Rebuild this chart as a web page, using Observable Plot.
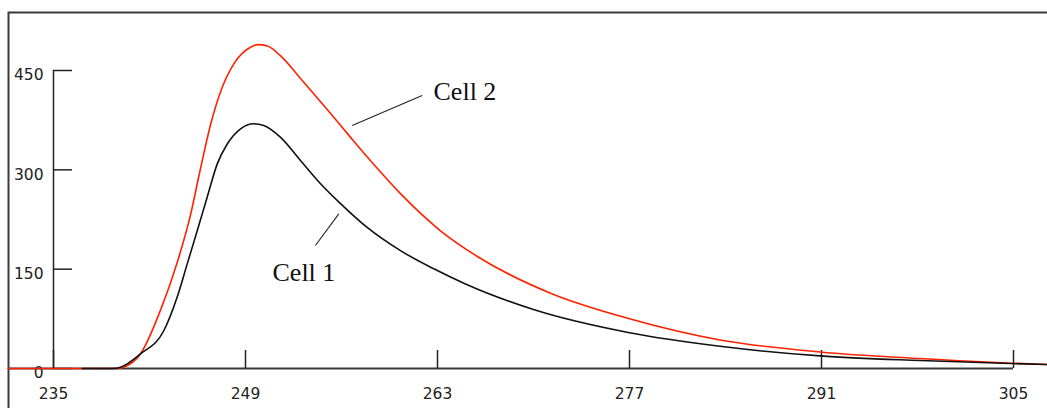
<!DOCTYPE html>
<html><head><meta charset="utf-8">
<script src="https://cdn.jsdelivr.net/npm/d3@7"></script>
<script src="https://cdn.jsdelivr.net/npm/@observablehq/plot@0.6"></script>
<style>
html,body{margin:0;padding:0;background:#fff;overflow:hidden;}
#chart svg{display:block;}
</style>
</head><body><div id="chart"></div>
<script>
// Cell 2 (red) trace
const cell2Time  = [231.7, 239.6, 240.1, 241.34, 242.8, 244.02, 244.99, 245.72, 246.45, 247.18, 248.15, 249.36, 249.9, 250.6, 251.56, 253.01, 254.96, 256.66, 258.36, 260.3, 263.22, 266.0, 271.2, 277.0, 283.6, 290.9, 298.2, 304.8, 307.5];
const cell2Value = [0, 0, 2, 22, 88, 160, 232, 302, 368, 418, 460, 485, 489, 487, 472, 438, 391, 349, 308, 264, 208, 168, 114, 75, 43, 25, 15, 8, 6];
// Cell 1 (black) trace
const cell1Time  = [237.1, 239.3, 239.89, 241.34, 243.04, 244.02, 244.75, 245.48, 246.21, 246.94, 247.67, 248.64, 249.61, 250.33, 251.56, 253.01, 254.47, 255.93, 257.87, 260.3, 262.73, 265.0, 270.0, 277.0, 283.6, 290.9, 298.2, 304.8, 307.5];
const cell1Value = [0, 0, 2, 22, 57, 108, 158, 208, 259, 309, 339, 362, 369.5, 367, 349, 314, 279, 249, 213, 178, 150.5, 128, 89, 54, 33.5, 19, 12, 7.5, 6];

const xTicks = [235, 249, 263, 277, 291, 305];
const yTicks = [0, 150, 300, 450];

const labelNames = ["Cell 1", "Cell 2"];
const labelTime  = [250.97, 262.71];
const labelValue = [145, 417.5];
// leader lines (data coordinates)
const leaderX1 = [254.10, 256.78];
const leaderY1 = [185.7, 366.9];
const leaderX2 = [255.80, 261.88];
const leaderY2 = [233.6, 412.3];

const cell2 = cell2Time.map((t, i) => ({t, v: cell2Value[i]}));
const cell1 = cell1Time.map((t, i) => ({t, v: cell1Value[i]}));
const labels = labelNames.map((name, i) => ({name, t: labelTime[i], v: labelValue[i]}));
const leaders = labelNames.map((name, i) => ({x1: leaderX1[i], y1: leaderY1[i], x2: leaderX2[i], y2: leaderY2[i]}));

const chart = Plot.plot({
  width: 1047,
  height: 408,
  marginLeft: 53,
  marginRight: 34,
  marginTop: 70,
  marginBottom: 40,
  x: {domain: [235, 305]},
  y: {domain: [0, 450]},
  style: {fontFamily: "DejaVu Sans", background: "#fff", overflow: "visible"},
  marks: [
    Plot.frame({stroke: "#3a3a3a", strokeWidth: 2, insetLeft: -45, insetTop: -58, insetRight: -80, insetBottom: -80}),
    // y axis line + ticks pointing right
    Plot.ruleX([235], {y1: 0, y2: 450, stroke: "#222", strokeWidth: 1.5}),
    Plot.tickY(yTicks, {y: d => d, stroke: "#222", strokeWidth: 1.5, insetRight: 941}),
    Plot.axisY({ticks: yTicks, tickSize: 0, tickPadding: 10, dy: 5, fontSize: 15.5, fill: "#222", label: null, style: {letterSpacing: "0.8px"}}),
    // x baseline + ticks pointing up
    Plot.ruleY([0], {stroke: "#3a3a3a", strokeWidth: 2, insetLeft: -45}),
    Plot.tickX(xTicks, {x: d => d, stroke: "#222", strokeWidth: 1.5, insetTop: 280}),
    Plot.axisX({ticks: xTicks, tickSize: 0, tickPadding: 19, fontSize: 15.5, fill: "#222", label: null, style: {letterSpacing: "0.8px"}}),
    // traces
    Plot.line(cell2, {x: "t", y: "v", stroke: "#ff2200", strokeWidth: 1.6, curve: "monotone-x"}),
    Plot.line(cell1, {x: "t", y: "v", stroke: "#111", strokeWidth: 1.6, curve: "monotone-x"}),
    // annotations
    Plot.link(leaders, {x1: "x1", y1: "y1", x2: "x2", y2: "y2", stroke: "#222", strokeWidth: 1.1}),
    Plot.text(labels, {x: "t", y: "v", text: "name", textAnchor: "start", lineAnchor: "middle", fontFamily: "Liberation Serif", fontSize: 26, fill: "#111"})
  ]
});
document.getElementById("chart").appendChild(chart);
</script>
</body></html>
